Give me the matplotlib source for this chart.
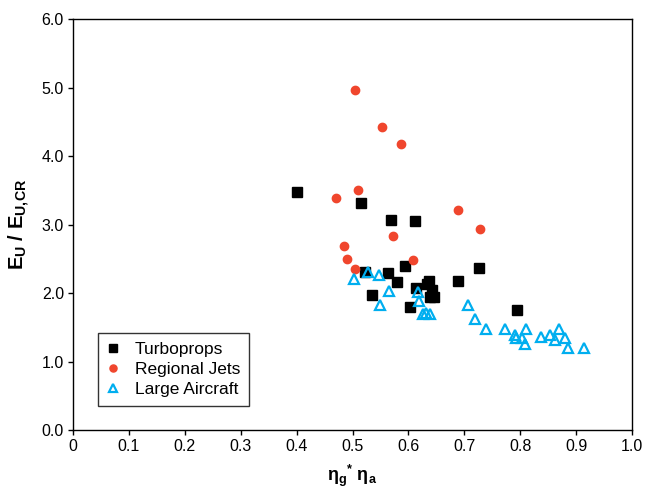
import matplotlib
matplotlib.use("Agg")
import matplotlib.pyplot as plt

plt.rcParams['font.family'] = ['Liberation Sans', 'DejaVu Sans']
plt.rcParams['mathtext.fontset'] = 'custom'
plt.rcParams['mathtext.rm'] = 'Liberation Sans'
plt.rcParams['mathtext.bf'] = 'Liberation Sans:bold'
plt.rcParams['mathtext.it'] = 'Liberation Sans:italic'

# Turboprops
turbo_x = [0.40, 0.516, 0.568, 0.612, 0.594, 0.727, 0.523, 0.564, 0.580, 0.636,
           0.688, 0.535, 0.614, 0.634, 0.642, 0.639, 0.646, 0.603, 0.795]
turbo_y = [3.47, 3.32, 3.06, 3.05, 2.40, 2.37, 2.30, 2.29, 2.16, 2.18,
           2.17, 1.97, 2.07, 2.13, 2.04, 1.94, 1.94, 1.79, 1.75]

# Regional Jets
rj_x = [0.504, 0.552, 0.587, 0.509, 0.471, 0.689, 0.728, 0.573, 0.485, 0.490, 0.609, 0.504]
rj_y = [4.97, 4.43, 4.17, 3.50, 3.39, 3.21, 2.94, 2.83, 2.69, 2.50, 2.48, 2.35]

# Large Aircraft
la_x = [0.527, 0.548, 0.503, 0.565, 0.549, 0.617, 0.619, 0.626, 0.632, 0.638,
        0.707, 0.720, 0.738, 0.773, 0.791, 0.793, 0.803, 0.811, 0.808, 0.838,
        0.853, 0.870, 0.862, 0.880, 0.886, 0.914]
la_y = [2.31, 2.27, 2.20, 2.03, 1.82, 2.01, 1.88, 1.70, 1.71, 1.70,
        1.82, 1.62, 1.47, 1.47, 1.38, 1.34, 1.34, 1.48, 1.25, 1.36,
        1.38, 1.47, 1.31, 1.35, 1.20, 1.20]

x_ticks = [0, 0.1, 0.2, 0.3, 0.4, 0.5, 0.6, 0.7, 0.8, 0.9, 1.0]
x_tick_labels = ['0', '0.1', '0.2', '0.3', '0.4', '0.5', '0.6', '0.7', '0.8', '0.9', '1.0']
y_ticks = [0, 1, 2, 3, 4, 5, 6]
y_tick_labels = ['0.0', '1.0', '2.0', '3.0', '4.0', '5.0', '6.0']

fig = plt.figure(figsize=(6.52, 4.94), dpi=100)
ax = fig.add_axes([73/652, 64/494, 559/652, 411/494])

red = '#F0462D'
blue = '#00AEEF'

ax.plot(turbo_x, turbo_y, ls='none', marker='s', ms=6.5, color='black', label='Turboprops')
ax.plot(rj_x, rj_y, ls='none', marker='o', ms=6, color=red, label='Regional Jets')
ax.plot(la_x, la_y, ls='none', marker='^', ms=7, mfc='none', mec=blue, mew=1.6, label='Large Aircraft')

ax.set_xlim(0, 1.0)
ax.set_ylim(0, 6.0)
ax.set_xticks(x_ticks)
ax.set_xticklabels(x_tick_labels)
ax.set_yticks(y_ticks)
ax.set_yticklabels(y_tick_labels)
ax.tick_params(direction='out', length=3.5, width=1, labelsize=11.5, pad=3)
for s in ax.spines.values():
    s.set_linewidth(1)

ax.set_xlabel(r'$\mathbf{η_g{}^{*}\ η_a}$', fontsize=13, labelpad=6)
ax.set_ylabel(r'$\mathbf{E_U\ /\ E_{U,\!CR}}$', fontsize=14.5, labelpad=7)

leg = ax.legend(loc='lower left', bbox_to_anchor=(0.045, 0.058), borderaxespad=0,
                fontsize=12.5, frameon=True, fancybox=False, handlelength=0.7,
                handletextpad=0.9, labelspacing=0.3, borderpad=0.5, markerscale=0.85)
leg.get_frame().set_edgecolor('black')
leg.get_frame().set_linewidth(1)

fig.savefig('out.png', dpi=100)
